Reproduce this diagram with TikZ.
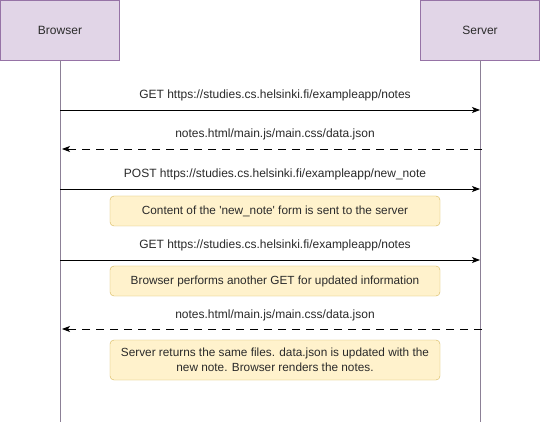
\documentclass[tikz,border=0pt]{standalone}
\usepackage{fontspec}
\setmainfont{Liberation Sans}
\usetikzlibrary{arrows.meta}
\definecolor{actfill}{HTML}{E1D5E7}
\definecolor{actdraw}{HTML}{9673A6}
\definecolor{notefill}{HTML}{FFF2CC}
\definecolor{notedraw}{HTML}{D6B656}
\definecolor{lifeline}{HTML}{8C8096}
\definecolor{txt}{HTML}{2A2A2A}
\begin{document}
\begin{tikzpicture}[x=1pt,y=-1pt,
  actor/.style={draw=actdraw,fill=actfill,minimum width=119pt,minimum height=60pt,inner sep=0pt,text=txt,font=\fontsize{12}{14}\selectfont},
  notebox/.style={draw=notedraw,fill=notefill,rounded corners=4pt,minimum width=330pt,inner sep=0pt,text=txt,align=center,font=\fontsize{11.8}{14.5}\selectfont},
  msg/.style={-{Stealth[length=8pt,width=6pt,inset=2pt]},line width=0.8pt},
  ret/.style={msg,dash pattern=on 8pt off 6pt},
  lbl/.style={text=txt,font=\fontsize{12}{14}\selectfont,inner sep=0pt}]
\useasboundingbox (0,0) rectangle (541,422);
\fill[white] (0,0) rectangle (541,422);
\node[actor] (browser) at (60,30) {Browser};
\node[actor] (server) at (480,30) {Server};
\coordinate (bEnd) at (60,422);
\coordinate (sEnd) at (480,422);
\draw[lifeline,line width=0.8pt] (browser.south) -- (bEnd);
\draw[lifeline,line width=0.8pt] (server.south) -- (sEnd);
% messages
\coordinate (b1) at (60,110); \coordinate (s1) at (480,110);
\coordinate (b2) at (62,149); \coordinate (s2) at (482,149);
\coordinate (b3) at (60,189); \coordinate (s3) at (480,189);
\coordinate (b4) at (60,260); \coordinate (s4) at (480,260);
\coordinate (b5) at (62,329); \coordinate (s5) at (482,329);
\draw[msg] (b1) -- (s1);
\draw[ret] (s2) -- (b2);
\draw[msg] (b3) -- (s3);
\draw[msg] (b4) -- (s4);
\draw[ret] (s5) -- (b5);
\node[lbl] (l1) at (275,95) {GET https://studies.cs.helsinki.fi/exampleapp/notes};
\node[lbl] (l2) at (275,134) {notes.html/main.js/main.css/data.json};
\node[lbl] (l3) at (275,174) {POST https://studies.cs.helsinki.fi/exampleapp/new\_note};
\node[lbl] (l4) at (275,245) {GET https://studies.cs.helsinki.fi/exampleapp/notes};
\node[lbl] (l5) at (275,315) {notes.html/main.js/main.css/data.json};
\node[notebox,minimum height=30pt] (n1) at (275,211) {Content of the \textquotesingle new\_note\textquotesingle{} form is sent to the server};
\node[notebox,minimum height=30pt] (n2) at (275,281) {Browser performs another GET for updated information};
\node[notebox,minimum height=40pt] (n3) at (275,360) {Server returns the same files. data.json is updated with the\\new note. Browser renders the notes.};
\end{tikzpicture}
\end{document}
